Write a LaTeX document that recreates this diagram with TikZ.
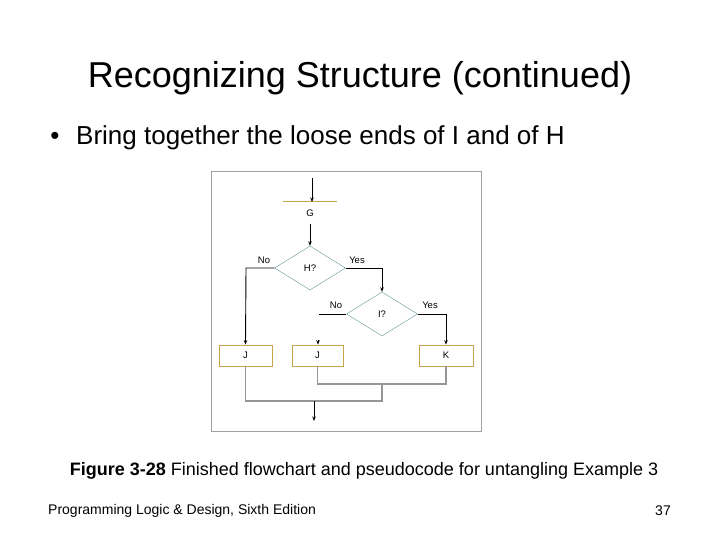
\documentclass[tikz,border=0pt]{standalone}
\usepackage{fontspec}
\setmainfont{Liberation Sans}
\setsansfont{Liberation Sans}
\usetikzlibrary{arrows.meta,positioning,shapes.geometric}

\definecolor{frameGray}{RGB}{160,160,160}
\definecolor{diaTeal}{RGB}{100,150,150}
\definecolor{boxGold}{RGB}{200,165,75}
\definecolor{joinGray}{RGB}{150,150,150}

\begin{document}
\begin{tikzpicture}[x=1pt,y=-1pt]
\tikzset{
  decision/.style={diamond,draw=diaTeal,thin,inner sep=0pt,minimum width=71pt,minimum height=44pt,font=\fontsize{9.5}{10}\selectfont},
  process/.style={rectangle,draw=boxGold,thick,inner sep=0pt,minimum height=21pt,font=\fontsize{9.5}{10}\selectfont},
  flow/.style={-{Stealth[length=4.5pt,width=3.5pt]},line width=0.9pt},
  plainflow/.style={line width=0.9pt},
  joinline/.style={draw=joinGray,line width=1.5pt},
  branch/.style={font=\fontsize{9.5}{10}\selectfont}
}
\useasboundingbox (0,0) rectangle (720,540);
% slide texts
\node[font=\fontsize{36}{40}\selectfont] (t_title) at (360,78) {Recognizing Structure (continued)};
\node[font=\fontsize{26}{30}\selectfont] (t_dot) at (55,138) {\textbullet};
\node[anchor=west,inner sep=0pt,font=\fontsize{26}{30}\selectfont] (t_bullet) at (76,138) {Bring together the loose ends of I and of H};
\node[font=\fontsize{18}{21}\selectfont] (t_caption) at (364,471) {\textbf{Figure 3-28} Finished flowchart and pseudocode for untangling Example 3};
\node[anchor=west,inner sep=0pt,font=\fontsize{14}{17}\selectfont] (t_footer) at (48,511) {Programming Logic \& Design, Sixth Edition};
\node[anchor=east,inner sep=0pt,font=\fontsize{14}{17}\selectfont] (t_page) at (671,511) {37};
% figure frame
\draw[frameGray,line width=1pt] (211,172) rectangle (481,431);
% nodes
\coordinate (c_top) at (312,178);
\node[rectangle,inner sep=0pt,minimum width=53pt,minimum height=22pt,anchor=north,font=\fontsize{9.5}{10}\selectfont] (n_g) at (310,202) {G};
\node[decision] (n_h) at (310,268) {H?};
\node[decision] (n_i) at (382,314) {I?};
\node[process,minimum width=53pt] (n_j1) at (245.5,355.5) {J};
\node[process,minimum width=51pt] (n_j2) at (317.5,355.5) {J};
\node[process,minimum width=54pt] (n_k) at (446,355.5) {K};
\coordinate (c_hno) at (246,268);
\coordinate (c_hyes) at (382,268);
\coordinate (c_ino) at (319,314);
\coordinate (c_iyes) at (446,314);
\coordinate (c_j2in) at (318,340);
\coordinate (c_jk) at (382,384);
\coordinate (c_all) at (382,401);
\coordinate (c_exit) at (314,401);
\coordinate (c_out) at (314,421);
% branch labels
\node[branch] (l_hno) at (264,260) {No};
\node[branch] (l_hyes) at (357,260) {Yes};
\node[branch] (l_ino) at (336,305) {No};
\node[branch] (l_iyes) at (430,305) {Yes};
% connectors
\draw[boxGold,line width=1pt] (n_g.north west) -- (n_g.north east);
\draw[flow] (c_top) -- (c_top |- n_g.north);
\draw[flow] (n_g.south) -- (n_h.north);
\draw[flow] (n_h.west) -- (c_hno) -- (n_j1.north);
\draw[flow] (n_h.east) -- (c_hyes) -- (n_i.north);
\draw[plainflow] (n_i.west) -- (c_ino);
\draw[flow] (n_i.east) -- (c_iyes) -- (n_k.north);
\draw[flow] (c_j2in) -- (c_j2in |- n_j2.north);
\draw[joinline] (n_k.south) |- (c_jk) -| (n_j2.south);
\draw[joinline] (c_jk) -- (c_all) -| (n_j1.south);
\draw[flow] (c_exit) -- (c_out);
\end{tikzpicture}
\end{document}
